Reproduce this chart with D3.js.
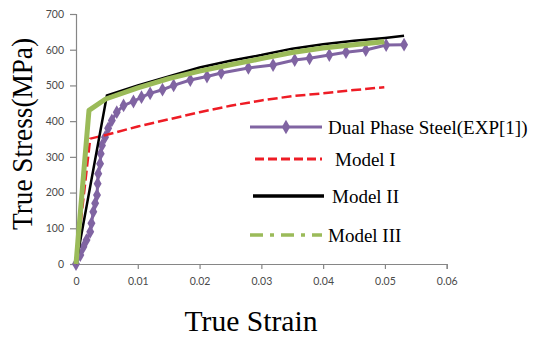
<!DOCTYPE html>
<html><head><meta charset="utf-8">
<script src="https://cdn.jsdelivr.net/npm/d3@7"></script>
<style>body{margin:0;background:#fff}svg{display:block}</style>
</head><body>
<script>
const xTicks = [0, 0.01, 0.02, 0.03, 0.04, 0.05, 0.06];
const xTickLabels = ["0", "0.01", "0.02", "0.03", "0.04", "0.05", "0.06"];
const yTicks = [0, 100, 200, 300, 400, 500, 600, 700];

const expStrain = [0,0.0007,0.0012,0.0017,0.0023,0.0025,0.0028,0.0031,0.0034,0.0035,0.0036,0.0039,0.0040,0.0042,0.0047,0.0052,0.0058,0.0066,0.0077,0.0093,0.0106,0.0120,0.0140,0.0158,0.0185,0.0212,0.0235,0.0279,0.0319,0.0354,0.0378,0.0410,0.0437,0.0469,0.0502,0.0531];
const expStress = [0,25,48,67,90,114,146,170,193,225,253,281,309,332,355,380,402,425,444,455,467,478,488,500,515,525,535,549,557,571,576,585,593,599,613,614];

const m1Strain = [0,0.0023,0.005,0.01,0.015,0.02,0.025,0.03,0.035,0.04,0.045,0.0499];
const m1Stress = [0,351,362,385,405,425,443,458,470,478,487,495];

const m2Strain = [0,0.005,0.01,0.015,0.02,0.025,0.03,0.035,0.04,0.045,0.05,0.0531];
const m2Stress = [0,472,500,525,550,569,585,603,615,625,633,639];

const m3Strain = [0,0.0021,0.0048,0.01,0.015,0.02,0.025,0.03,0.035,0.04,0.045,0.0499];
const m3Stress = [0,430,462,493,519,540,558,575,592,605,614,622];

const seriesNames = ["Dual Phase Steel(EXP[1])", "Model I", "Model II", "Model III"];
const colors = ["#8064A2", "#EE1C25", "#000000", "#9BBB59"];

const W = 533, H = 338;
const svg = d3.select("body").append("svg").attr("width", W).attr("height", H);
svg.append("rect").attr("width", W).attr("height", H).attr("fill", "#fff");

const x = d3.scaleLinear().domain([0, 0.06]).range([76, 446.7]);
const y = d3.scaleLinear().domain([0, 700]).range([264, 14]);

const tickFont = "Lato, 'Open Sans', sans-serif";
const xAxis = d3.axisBottom(x).tickValues(xTicks).tickFormat((d, i) => xTickLabels[i]).tickSize(5).tickPadding(9);
const gx = svg.append("g").attr("transform", "translate(0,264)").call(xAxis);
const yAxis = d3.axisLeft(y).tickValues(yTicks).tickSize(6).tickPadding(6);
const gy = svg.append("g").attr("transform", "translate(76,0)").call(yAxis);
[gx, gy].forEach(g => {
  g.select(".domain").attr("stroke", "#868686").attr("stroke-width", 1.2);
  g.selectAll(".tick line").attr("stroke", "#868686").attr("stroke-width", 1.2);
  g.selectAll(".tick text").attr("fill", "#4a4a4a").attr("font-family", tickFont).attr("font-size", 10.5);
});

function pts(xs, ys) { return xs.map((v, i) => [v, ys[i]]); }
const line = d3.line().x(d => x(d[0])).y(d => y(d[1]));

const exp = pts(expStrain, expStress);
svg.append("path").attr("d", line(exp)).attr("fill", "none").attr("stroke", colors[0]).attr("stroke-width", 3);
const diamond = d3.symbol().type(d3.symbolDiamond).size(55);
svg.append("g").selectAll("path").data(exp).join("path")
  .attr("d", diamond).attr("transform", d => `translate(${x(d[0])},${y(d[1])})`).attr("fill", colors[0]);

svg.append("path").attr("d", line(pts(m1Strain, m1Stress))).attr("fill", "none")
  .attr("stroke", colors[1]).attr("stroke-width", 2.5).attr("stroke-dasharray", "10,4");
svg.append("path").attr("d", line(pts(m2Strain, m2Stress))).attr("fill", "none")
  .attr("stroke", colors[2]).attr("stroke-width", 2.5);
svg.append("path").attr("d", line(pts(m3Strain, m3Stress))).attr("fill", "none")
  .attr("stroke", colors[3]).attr("stroke-width", 5).attr("stroke-linejoin", "round");

// Legend
const serif = "'Liberation Serif', 'Times New Roman', serif";
const leg = [
  {x1: 250, x2: 322, y: 127, tx: 328, dash: null, w: 3},
  {x1: 255, x2: 322, y: 159, tx: 335, dash: "9,4", w: 3},
  {x1: 253, x2: 324, y: 196, tx: 332, dash: null, w: 3.5},
  {x1: 250, x2: 322, y: 235, tx: 328, dash: "13,7,4,7", w: 3.5}
];
leg.forEach((l, i) => {
  const ln = svg.append("line").attr("x1", l.x1).attr("x2", l.x2).attr("y1", l.y).attr("y2", l.y)
    .attr("stroke", colors[i]).attr("stroke-width", l.w);
  if (l.dash) ln.attr("stroke-dasharray", l.dash);
  if (i === 0) svg.append("path").attr("d", d3.symbol().type(d3.symbolDiamond).size(60))
    .attr("transform", `translate(${(l.x1 + l.x2) / 2},${l.y})`).attr("fill", colors[0]);
  svg.append("text").attr("x", l.tx).attr("y", l.y + 6.5).attr("font-family", serif)
    .attr("font-size", 19).attr("fill", "#000").text(seriesNames[i]);
});

// Axis titles
svg.append("text").attr("transform", "translate(32,134) rotate(-90)").attr("text-anchor", "middle")
  .attr("font-family", serif).attr("font-size", 30).attr("textLength", 192).attr("lengthAdjust", "spacingAndGlyphs")
  .text("True Stress(MPa)");
svg.append("text").attr("x", 251).attr("y", 331).attr("text-anchor", "middle")
  .attr("font-family", serif).attr("font-size", 29).attr("textLength", 133).attr("lengthAdjust", "spacingAndGlyphs")
  .text("True Strain");
</script>
</body></html>
